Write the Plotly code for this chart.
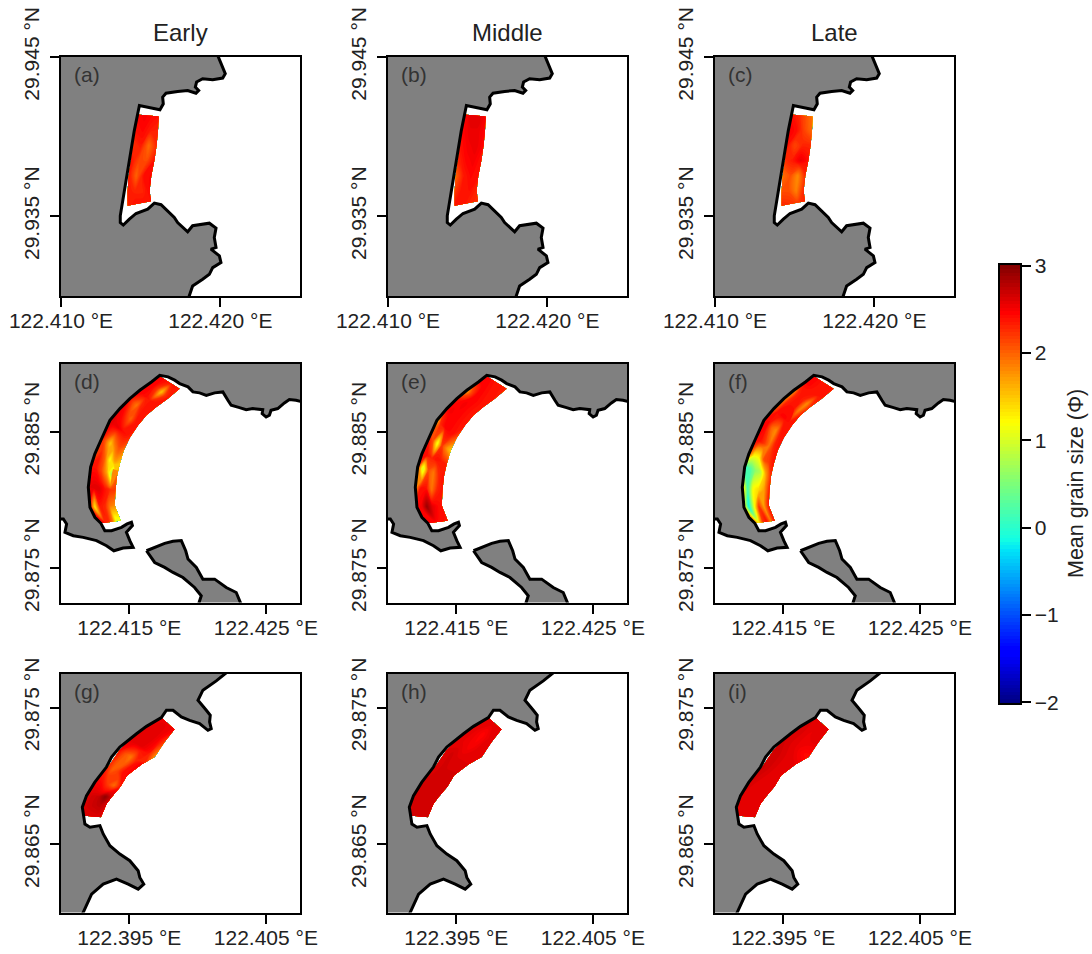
import plotly.graph_objects as go

# ---- panel text ----
column_titles = ["Early", "Middle", "Late"]
panel_labels = ["(a)", "(b)", "(c)", "(d)", "(e)", "(f)", "(g)", "(h)", "(i)"]

# ---- axis ranges and ticks per row ----
row1_lon_range = [122.41, 122.425]
row1_lat_range = [29.93, 29.945]
row1_lon_ticks = [122.41, 122.42]
row1_lon_text = ["122.410 °E", "122.420 °E"]
row1_lat_ticks = [29.935, 29.945]
row1_lat_text = ["29.935 °N", "29.945 °N"]

row2_lon_range = [122.41, 122.4275]
row2_lat_range = [29.8725, 29.89]
row2_lon_ticks = [122.415, 122.425]
row2_lon_text = ["122.415 °E", "122.425 °E"]
row2_lat_ticks = [29.875, 29.885]
row2_lat_text = ["29.875 °N", "29.885 °N"]

row3_lon_range = [122.39, 122.4075]
row3_lat_range = [29.86, 29.8775]
row3_lon_ticks = [122.395, 122.405]
row3_lon_text = ["122.395 °E", "122.405 °E"]
row3_lat_ticks = [29.865, 29.875]
row3_lat_text = ["29.865 °N", "29.875 °N"]

# ---- coastlines (lon, lat) ----
row1_land_lon = [122.41979, 122.42004, 122.42031, 122.42015, 122.41952, 122.41889, 122.41851, 122.41843, 122.41864,
                 122.41847, 122.41795, 122.41732, 122.41659, 122.41638, 122.41642, 122.41621, 122.41492, 122.4146,
                 122.41425, 122.41397, 122.41372, 122.41372, 122.41391, 122.41429, 122.41471, 122.41544, 122.41586,
                 122.41628, 122.41669, 122.41711, 122.41732, 122.41795, 122.41826, 122.41889, 122.41931, 122.41973,
                 122.41962, 122.41973, 122.41941, 122.41994, 122.42004, 122.41952, 122.41931, 122.41889, 122.41826,
                 122.41801, 122.405, 122.405, 122.41979]
row1_land_lat = [29.94521, 29.94458, 29.94395, 29.94368, 29.94357, 29.94364, 29.94343, 29.94311, 29.9429,
                 29.94273, 29.9429, 29.94284, 29.94273, 29.94248, 29.94206, 29.94169, 29.94196, 29.94038,
                 29.93829, 29.93661, 29.93503, 29.93461, 29.93445, 29.93482, 29.93518, 29.93545, 29.93583,
                 29.93573, 29.93535, 29.93493, 29.93461, 29.93403, 29.93441, 29.93451, 29.93457, 29.93426,
                 29.93367, 29.93304, 29.93294, 29.93252, 29.9321, 29.93178, 29.93136, 29.93105, 29.93063,
                 29.92989, 29.92989, 29.95, 29.95]

row2_land_lon = [122.42769, 122.42721, 122.42672, 122.42636, 122.42587, 122.42538, 122.42526, 122.42502, 122.42473,
                 122.42477, 122.42404, 122.42356, 122.42307, 122.42246, 122.42222, 122.42185, 122.42125, 122.42064,
                 122.42015, 122.41966, 122.4193, 122.41869, 122.41832, 122.41784, 122.41723, 122.41662, 122.41577,
                 122.41504, 122.41431, 122.41358, 122.41297, 122.41248, 122.41217, 122.412, 122.41212, 122.41248,
                 122.41292, 122.41321, 122.4137, 122.41443, 122.41484, 122.41516, 122.41523, 122.41479, 122.41504,
                 122.41528, 122.41455, 122.41387, 122.41333, 122.4126, 122.41163, 122.4109, 122.41029, 122.41041,
                 122.41017, 122.40981, 122.405, 122.405, 122.435, 122.435]
row2_land_lat = [29.88718, 29.88731, 29.88736, 29.88711, 29.8867, 29.88657, 29.88621, 29.88608, 29.88633,
                 29.88662, 29.8867, 29.88662, 29.88677, 29.88694, 29.88731, 29.88792, 29.88785, 29.88767,
                 29.88785, 29.88792, 29.88829, 29.88853, 29.88878, 29.88902, 29.88914, 29.88865, 29.88804,
                 29.88743, 29.8867, 29.88584, 29.88449, 29.88339, 29.88241, 29.88094, 29.87947, 29.87874,
                 29.8783, 29.87776, 29.87776, 29.878, 29.87825, 29.87837, 29.87813, 29.87764, 29.87703,
                 29.87654, 29.87649, 29.87629, 29.87666, 29.87703, 29.87727, 29.87739, 29.87764, 29.87825,
                 29.87862, 29.87862, 29.87862, 29.895, 29.895, 29.88718]

row2_island_lon = [122.41626, 122.41686, 122.41759, 122.4182, 122.41881, 122.41913, 122.4193, 122.41991, 122.42039,
                   122.42125, 122.4221, 122.42283, 122.42324, 122.42003, 122.42027, 122.41978, 122.41893, 122.4182,
                   122.41759, 122.41686, 122.41638, 122.41626]
row2_island_lat = [29.87629, 29.87654, 29.87683, 29.87698, 29.87703, 29.87629, 29.87568, 29.87507, 29.87421,
                   29.87421, 29.8736, 29.87323, 29.87225, 29.87225, 29.87299, 29.8736, 29.87433, 29.8747,
                   29.87507, 29.87543, 29.87605, 29.87629]

row3_land_lon = [122.40234, 122.40137, 122.40039, 122.40003, 122.40064, 122.40093, 122.40088, 122.401, 122.40076,
                 122.40015, 122.39942, 122.39881, 122.3982, 122.39772, 122.39735, 122.39626, 122.39553, 122.39431,
                 122.3937, 122.39333, 122.39248, 122.39187, 122.39156, 122.39163, 122.39175, 122.39212, 122.39285,
                 122.39309, 122.39358, 122.39431, 122.39504, 122.39565, 122.39577, 122.39606, 122.39565, 122.39492,
                 122.39406, 122.39309, 122.39224, 122.39151, 122.385, 122.385, 122.40234]
row3_land_lat = [29.87774, 29.87696, 29.87628, 29.87554, 29.87481, 29.87444, 29.87395, 29.87346, 29.87334,
                 29.87383, 29.87407, 29.87432, 29.87481, 29.87481, 29.87427, 29.87363, 29.87309, 29.87211,
                 29.87138, 29.87065, 29.86954, 29.86856, 29.86771, 29.8671, 29.86648, 29.86624, 29.86636,
                 29.86575, 29.86489, 29.86428, 29.86379, 29.86306, 29.86257, 29.86208, 29.86171, 29.86208,
                 29.86244, 29.86208, 29.86134, 29.85975, 29.85975, 29.8785, 29.8785]

# ---- survey band edges (shore side, sea side) ----
row1_shore_lon = [122.41481, 122.41467, 122.41452, 122.41439, 122.41425, 122.41418, 122.41418]
row1_shore_lat = [29.94139, 29.94038, 29.93944, 29.9385, 29.93755, 29.93661, 29.93566]
row1_sea_lon = [122.41613, 122.41609, 122.416, 122.41586, 122.41567, 122.41556, 122.41565]
row1_sea_lat = [29.94127, 29.94038, 29.93944, 29.9385, 29.93755, 29.93661, 29.93594]

row2_shore_lon = [122.41723, 122.41662, 122.41577, 122.41504, 122.41431, 122.41358, 122.41297, 122.41248, 122.41217,
                  122.412, 122.41212, 122.41292]
row2_shore_lat = [29.88907, 29.88865, 29.88804, 29.88743, 29.8867, 29.88584, 29.88449, 29.88339, 29.88241,
                  29.88094, 29.87947, 29.8783]
row2_sea_lon = [122.41869, 122.41784, 122.41699, 122.41626, 122.41565, 122.41504, 122.4146, 122.41431, 122.41411,
                122.41399, 122.41394, 122.41438]
row2_sea_lat = [29.88816, 29.88743, 29.88682, 29.88621, 29.88547, 29.88457, 29.88364, 29.88266, 29.8818,
                29.8807, 29.8796, 29.87849]

row3_shore_lon = [122.39735, 122.39626, 122.39516, 122.39431, 122.39346, 122.39248, 122.39187, 122.39156, 122.39163]
row3_shore_lat = [29.87427, 29.87358, 29.87273, 29.87192, 29.87065, 29.86954, 29.86856, 29.86771, 29.8671]
row3_sea_lon = [122.39832, 122.39759, 122.39686, 122.39589, 122.39484, 122.39436, 122.3937, 122.39333, 122.39292]
row3_sea_lat = [29.87341, 29.87248, 29.87138, 29.87084, 29.87003, 29.86923, 29.86844, 29.86795, 29.86697]

# ---- mean grain size (phi), rows run along the band, columns from shore to sea ----
grain_a = [[2.45, 2.5, 2.45, 2.4], [2.4, 2.45, 2.35, 2.3], [2.25, 2.35, 1.95, 2.3], [2.4, 2.15, 2.1, 2.4],
           [2.4, 2.0, 2.4, 2.45], [2.35, 2.3, 2.3, 2.45], [2.3, 2.4, 2.4, 2.4]]
grain_b = [[2.45, 2.6, 2.6, 2.5], [2.45, 2.55, 2.55, 2.45], [2.4, 2.5, 2.55, 2.45], [2.3, 2.45, 2.5, 2.4],
           [2.0, 2.35, 2.45, 2.4], [2.2, 2.4, 2.4, 2.3], [2.4, 2.4, 2.3, 2.25]]
grain_c = [[2.4, 2.3, 2.1, 1.9], [2.5, 2.4, 2.15, 1.95], [2.4, 2.15, 2.3, 2.3], [2.25, 2.35, 2.55, 2.4],
           [1.95, 2.1, 1.8, 2.3], [2.1, 2.1, 1.85, 2.3], [2.3, 2.25, 2.2, 2.3]]

grain_d = [[2.45, 2.45, 2.4, 2.4, 2.4, 2.35], [2.45, 2.45, 2.2, 1.5, 2.2, 2.4], [2.5, 2.45, 2.4, 2.35, 2.4, 2.4],
           [2.45, 2.15, 1.9, 2.3, 2.4, 2.35], [2.55, 2.45, 2.2, 2.0, 2.35, 2.4], [2.6, 2.55, 2.55, 2.45, 2.4, 2.3],
           [2.4, 2.0, 1.5, 1.9, 2.1, 1.9], [2.1, 2.35, 2.0, 1.2, 1.7, 1.5], [2.4, 2.4, 2.15, 1.7, 0.7, 2.0],
           [2.55, 2.6, 2.6, 2.4, 2.25, 2.2], [2.55, 1.3, 2.35, 2.3, 1.9, 1.8], [2.45, 2.4, 2.3, 1.9, 1.0, 1.1]]
grain_e = [[2.45, 2.45, 2.4, 2.4, 2.35, 2.3], [2.45, 2.45, 2.45, 2.4, 2.4, 2.35], [1.6, 2.1, 2.45, 2.45, 2.4, 2.4],
           [2.4, 2.45, 2.5, 2.45, 2.4, 2.4], [2.45, 2.5, 2.45, 2.45, 2.4, 2.4], [1.5, 2.3, 2.45, 2.45, 2.4, 2.1],
           [2.4, 2.1, 1.1, 2.2, 1.8, 1.5], [2.45, 2.4, 2.3, 2.4, 2.35, 2.3], [2.3, 0.9, 2.1, 1.9, 2.3, 2.4],
           [1.7, 2.4, 2.4, 1.9, 2.3, 2.4], [2.45, 2.5, 2.9, 2.6, 2.45, 2.4], [2.45, 2.45, 2.45, 2.4, 2.4, 2.35]]
grain_f = [[2.45, 2.45, 2.4, 2.4, 2.4, 2.35], [2.45, 2.45, 2.4, 2.4, 2.4, 2.35], [1.7, 2.3, 2.4, 2.3, 1.8, 2.3],
           [1.7, 2.3, 2.4, 2.4, 1.9, 2.35], [2.0, 2.4, 2.45, 2.45, 2.4, 2.4], [2.45, 2.45, 2.0, 1.8, 2.35, 2.4],
           [2.45, 2.4, 2.2, 1.9, 2.3, 2.4], [2.1, 1.2, 1.2, 2.1, 2.2, 2.4], [0.0, 0.2, 0.6, 0.8, 1.7, 2.3],
           [1.5, 0.1, 1.2, 1.4, 1.7, 2.35], [1.5, -0.2, 1.0, 2.2, 1.7, 2.35], [1.8, 1.3, 2.2, 2.4, 1.9, 2.4]]

grain_g = [[2.5, 2.55, 2.55, 2.55, 2.5], [2.55, 2.6, 2.6, 2.5, 2.2], [2.6, 2.6, 2.55, 2.4, 1.8],
           [2.45, 2.1, 1.9, 2.3, 2.5], [2.3, 2.0, 2.15, 2.4, 2.45], [2.5, 2.45, 2.2, 1.95, 2.4],
           [2.6, 2.65, 2.7, 2.95, 2.65], [2.6, 2.65, 2.7, 2.75, 2.65], [2.6, 2.6, 2.6, 2.6, 2.6]]
grain_h = [[2.6, 2.6, 2.6, 2.6, 2.6], [2.6, 2.55, 2.45, 2.55, 2.6], [2.6, 2.55, 2.5, 2.6, 2.6],
           [2.6, 2.65, 2.6, 2.6, 2.6], [2.6, 2.65, 2.65, 2.65, 2.65], [2.65, 2.65, 2.65, 2.65, 2.65],
           [2.65, 2.65, 2.65, 2.65, 2.65], [2.65, 2.65, 2.65, 2.65, 2.65], [2.65, 2.65, 2.65, 2.65, 2.65]]
grain_i = [[2.6, 2.6, 2.6, 2.6, 2.6], [2.65, 2.6, 2.55, 2.6, 2.6], [2.65, 2.6, 2.55, 2.45, 2.4],
           [2.65, 2.65, 2.6, 2.6, 2.55], [2.7, 2.65, 2.6, 2.6, 2.6], [2.65, 2.6, 2.6, 2.6, 2.6],
           [2.6, 2.6, 2.6, 2.6, 2.6], [2.55, 2.6, 2.6, 2.6, 2.6], [2.5, 2.6, 2.6, 2.6, 2.6]]

colorbar_ticks = [-2, -1, 0, 1, 2, 3]
colorbar_title = "Mean grain size (Φ)"

# ---- style ----
FONT = "Liberation Sans"
INK = "#222222"
LAND = "#808080"
JET = [[0.0, "rgb(0,0,127)"], [0.11, "rgb(0,0,255)"], [0.125, "rgb(0,0,255)"], [0.35, "rgb(0,228,248)"],
       [0.375, "rgb(20,255,226)"], [0.5, "rgb(124,255,121)"], [0.64, "rgb(255,255,0)"], [0.75, "rgb(255,148,0)"],
       [0.89, "rgb(255,0,0)"], [1.0, "rgb(127,0,0)"]]
W, H = 1092, 954
COL_LEFT = [61, 388, 715]
ROW_TOP = [57, 363.5, 673.5]
SIZE = 239

rows = [
    dict(lon_range=row1_lon_range, lat_range=row1_lat_range, lon_ticks=row1_lon_ticks, lon_text=row1_lon_text,
         lat_ticks=row1_lat_ticks, lat_text=row1_lat_text, land=[(row1_land_lon, row1_land_lat)],
         shore=(row1_shore_lon, row1_shore_lat), sea=(row1_sea_lon, row1_sea_lat), grains=[grain_a, grain_b, grain_c]),
    dict(lon_range=row2_lon_range, lat_range=row2_lat_range, lon_ticks=row2_lon_ticks, lon_text=row2_lon_text,
         lat_ticks=row2_lat_ticks, lat_text=row2_lat_text,
         land=[(row2_land_lon, row2_land_lat), (row2_island_lon, row2_island_lat)],
         shore=(row2_shore_lon, row2_shore_lat), sea=(row2_sea_lon, row2_sea_lat), grains=[grain_d, grain_e, grain_f]),
    dict(lon_range=row3_lon_range, lat_range=row3_lat_range, lon_ticks=row3_lon_ticks, lon_text=row3_lon_text,
         lat_ticks=row3_lat_ticks, lat_text=row3_lat_text, land=[(row3_land_lon, row3_land_lat)],
         shore=(row3_shore_lon, row3_shore_lat), sea=(row3_sea_lon, row3_sea_lat), grains=[grain_g, grain_h, grain_i]),
]

fig = go.Figure()
layout = dict(
    width=W, height=H, margin=dict(l=0, r=0, t=0, b=0, autoexpand=False), paper_bgcolor="white", plot_bgcolor="white",
    font=dict(family=FONT, size=21, color=INK), showlegend=False,
    coloraxis=dict(
        colorscale=JET, cmin=-2, cmax=3,
        colorbar=dict(
            x=999 / W, xanchor="left", y=1 - 264 / H, yanchor="top", len=440 / H, lenmode="fraction",
            thickness=22, thicknessmode="pixels", xpad=0, ypad=0, outlinewidth=2, outlinecolor="black",
            tickvals=colorbar_ticks, ticks="outside", ticklen=9, tickwidth=1.5, tickcolor="black",
            tickfont=dict(family=FONT, size=21, color=INK),
        ),
    ),
)
annotations = []

n = 0
for r, row in enumerate(rows):
    for c in range(3):
        n += 1
        suffix = "" if n == 1 else str(n)
        ax_x, ax_y = "x" + suffix, "y" + suffix
        carpet_id = f"band{n}"
        shore_lon, shore_lat = row["shore"]
        sea_lon, sea_lat = row["sea"]
        grain = row["grains"][c]
        cols = len(grain[0])
        across = [k / (cols - 1) for k in range(cols)]
        along = list(range(len(grain)))
        carpet_x = [[s + t * (e - s) for t in across] for s, e in zip(shore_lon, sea_lon)]
        carpet_y = [[s + t * (e - s) for t in across] for s, e in zip(shore_lat, sea_lat)]
        hidden = dict(showgrid=False, showline=False, showticklabels="none", startline=False, endline=False,
                      minorgridcount=0, smoothing=0)
        fig.add_trace(go.Carpet(carpet=carpet_id, a=across, b=along,
                                x=carpet_x, y=carpet_y, aaxis=hidden, baxis=hidden, xaxis=ax_x, yaxis=ax_y))
        fig.add_trace(go.Contourcarpet(carpet=carpet_id, a=across, b=along, z=grain,
                                       coloraxis="coloraxis", autocontour=False, xaxis=ax_x, yaxis=ax_y,
                                       contours=dict(start=-2, end=3, size=0.04, coloring="fill", showlines=False),
                                       line=dict(width=0)))
        for lon, lat in row["land"]:
            fig.add_trace(go.Scatter(x=lon, y=lat, mode="lines", fill="toself", fillcolor=LAND,
                                     line=dict(color="black", width=3), hoverinfo="skip", xaxis=ax_x, yaxis=ax_y))
        left, top = COL_LEFT[c], ROW_TOP[r]
        common = dict(showline=True, mirror=True, linewidth=2, linecolor="black", showgrid=False, zeroline=False,
                      automargin=False, ticks="outside", ticklen=9, tickwidth=1.5, tickcolor="black",
                      tickfont=dict(family=FONT, size=21, color=INK))
        layout["xaxis" + suffix] = dict(domain=[left / W, (left + SIZE) / W], range=row["lon_range"], anchor=ax_y,
                                        tickvals=row["lon_ticks"], ticktext=row["lon_text"], tickangle=0,
                                        ticklabelstandoff=-4, **common)
        layout["yaxis" + suffix] = dict(domain=[1 - (top + SIZE) / H, 1 - top / H], range=row["lat_range"], anchor=ax_x,
                                        tickvals=row["lat_ticks"], ticktext=row["lat_text"], tickangle=-90,
                                        ticklabelstandoff=3, **common)
        annotations.append(dict(text=panel_labels[n - 1], xref=ax_x + " domain", yref=ax_y + " domain", x=0.045, y=0.925,
                                xanchor="left", yanchor="middle", showarrow=False,
                                font=dict(family=FONT, size=21, color="#333333")))

for c, title in enumerate(column_titles):
    annotations.append(dict(text=title, xref="paper", yref="paper", x=(COL_LEFT[c] + SIZE / 2) / W, y=1 - 32 / H,
                            xanchor="center", yanchor="middle", showarrow=False,
                            font=dict(family=FONT, size=24, color=INK)))
annotations.append(dict(text=colorbar_title, xref="paper", yref="paper", x=1076 / W, y=1 - 484 / H, textangle=-90,
                        xanchor="center", yanchor="middle", showarrow=False,
                        font=dict(family=FONT, size=21.5, color=INK)))
layout["annotations"] = annotations
fig.update_layout(**layout)
fig.write_html("out.html", config={"displayModeBar": False}, post_script="document.body.style.margin='0';")
